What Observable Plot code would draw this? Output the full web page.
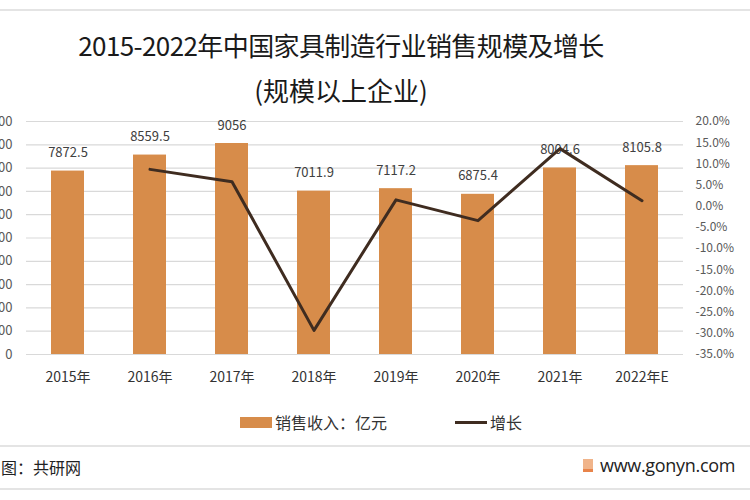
<!DOCTYPE html>
<html><head><meta charset="utf-8">
<script src="https://cdn.jsdelivr.net/npm/d3@7"></script>
<script src="https://cdn.jsdelivr.net/npm/@observablehq/plot@0.6"></script>
<style>
body{margin:0;background:#fff;font-family:"Noto Sans CJK SC","Noto Sans",sans-serif;}
#wrap{position:relative;width:750px;height:500px;overflow:hidden;background:#fff;}
.abs{position:absolute;white-space:nowrap;}
</style></head>
<body><div id="wrap">
<div class="abs" style="left:0;top:9px;width:750px;height:2px;background:#e4e4e4"></div>
<div class="abs" id="title" style="left:0;width:682px;top:26px;text-align:center;font-size:26px;color:#1a1a1a;letter-spacing:-0.6px">2015-2022年中国家具制造行业销售规模及增长</div>
<div class="abs" id="sub" style="left:0;width:682px;top:71px;text-align:center;font-size:26px;color:#1a1a1a">(规模以上企业)</div>
<div class="abs" id="chart" style="left:0;top:100px"></div>
<div class="abs" style="left:240px;top:417px;width:32px;height:11px;background:#D78C4A"></div>
<div class="abs" style="left:275px;top:410px;font-size:16px;color:#333">销售收入：亿元</div>
<div class="abs" style="left:455px;top:421px;width:32px;height:3px;background:#3f2c20"></div>
<div class="abs" style="left:490px;top:410px;font-size:16px;color:#333">增长</div>
<div class="abs" style="left:0;top:445px;width:750px;height:2px;background:#e4e4e4"></div>
<div class="abs" style="left:1px;top:455px;font-size:16px;color:#222">图：共研网</div>
<div class="abs" style="left:583px;top:459px;width:10px;height:13px;background:#f0b48a;border-bottom:3px solid #e8844a;box-sizing:border-box"></div>
<div class="abs" style="left:600px;top:453px;font-size:18px;color:#222;font-family:'Open Sans','DejaVu Sans',sans-serif;letter-spacing:-0.3px">www.gonyn.com</div>
<div class="abs" style="left:0;top:488px;width:750px;height:2px;background:#e4e4e4"></div>
</div>
<script>
const years = ["2015年","2016年","2017年","2018年","2019年","2020年","2021年","2022年E"];
const sales = [7872.5, 8559.5, 9056, 7011.9, 7117.2, 6875.4, 8004.6, 8105.8];
const salesLabels = ["7872.5","8559.5","9056","7011.9","7117.2","6875.4","8004.6","8105.8"];
const growth = [null, 8.7, 5.8, -29.3, 1.5, -3.4, 13.6, 1.3];
const leftTicks = [0,1000,2000,3000,4000,5000,6000,7000,8000,9000,10000];
const rightTicks = [20,15,10,5,0,-5,-10,-15,-20,-25,-30,-35];

const gMin = -35, gMax = 20, yMax = 10000;
const g2y = g => (g - gMin) / (gMax - gMin) * yMax;
const y2g = y => y / yMax * (gMax - gMin) + gMin;

const barData = years.map((y,i)=>({year:y, sales:sales[i], label:salesLabels[i]}));
const lineData = years.map((y,i)=>({year:y, g:growth[i]})).filter(d=>d.g!==null);

const chart = Plot.plot({
  width: 750, height: 300,
  marginTop: 21, marginBottom: 46, marginLeft: 26, marginRight: 67,
  style:{fontFamily:"'Noto Sans CJK SC','Noto Sans',sans-serif", fontSize:"13px", color:"#595959", overflow:"hidden"},
  x:{domain: years, paddingInner: 0.6, paddingOuter: 0.3, label:null},
  y:{domain:[0,yMax], label:null},
  marks:[
    Plot.gridY(leftTicks, {stroke:"#d9d9d9", strokeOpacity:1, strokeWidth:1.2}),
    Plot.axisY(leftTicks, {anchor:"left", tickSize:0, tickPadding:14, fontSize:13, fill:"#595959", label:null}),
    Plot.axisY(rightTicks.map(g2y), {anchor:"right", tickSize:0, tickPadding:12, textAnchor:"start", fontSize:12, fill:"#595959", tickFormat: v => y2g(v).toFixed(1)+"%", label:null}),
    Plot.axisX({tickSize:0, tickPadding:18, fontSize:14, fill:"#333", label:null}),
    Plot.barY(barData, {x:"year", y:"sales", fill:"#D78C4A"}),
    Plot.text(barData, {x:"year", y:"sales", text:"label", dy:-18, fontSize:13, fill:"#404040"}),
    Plot.line(lineData, {x:"year", y: d=>g2y(d.g), stroke:"#3f2c20", strokeWidth:3, curve:"linear"})
  ]
});
document.getElementById("chart").appendChild(chart);
</script>
</body></html>
